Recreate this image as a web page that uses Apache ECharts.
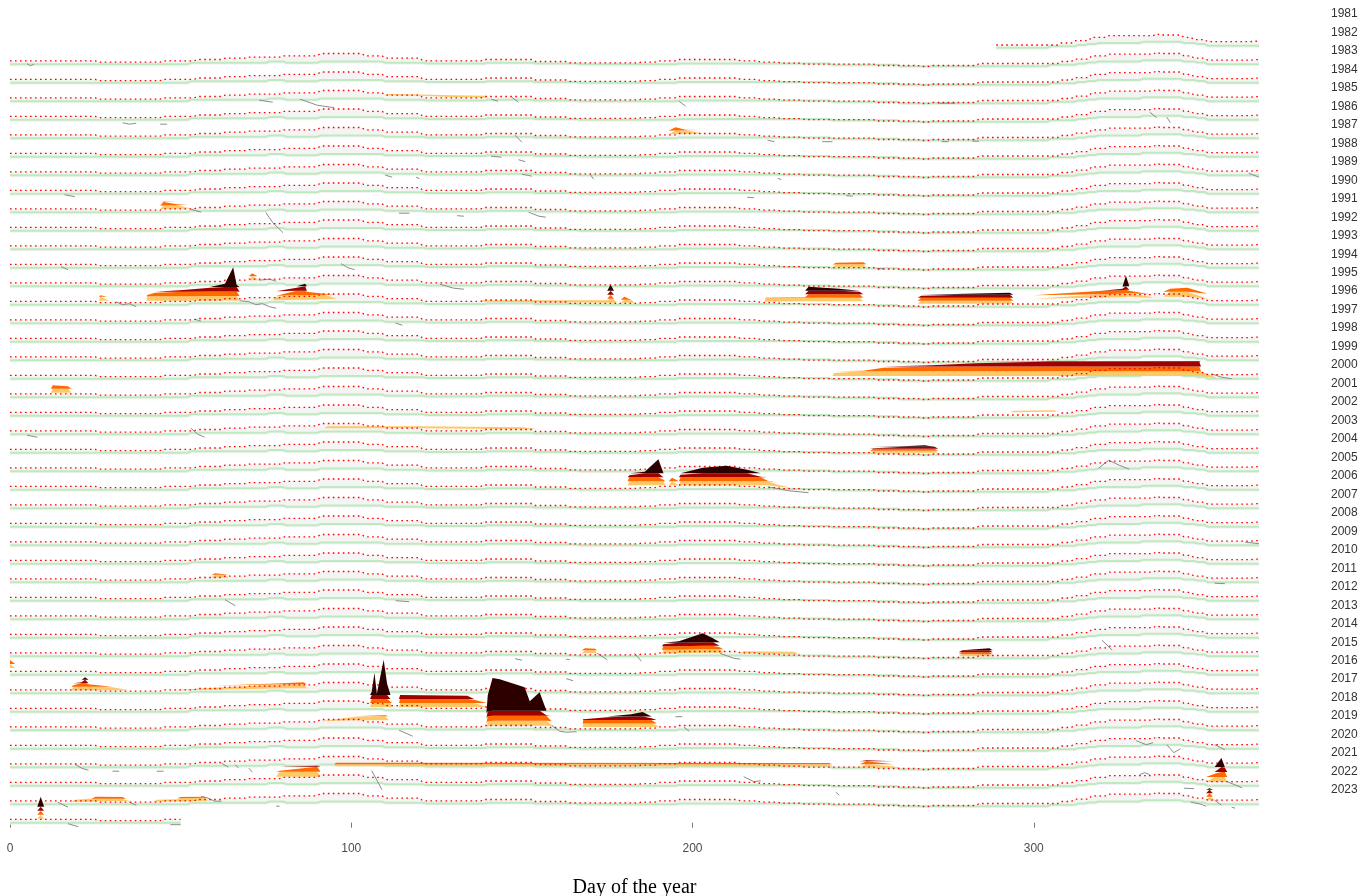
<!DOCTYPE html>
<html><head><meta charset="utf-8">
<script src="https://cdn.jsdelivr.net/npm/echarts@6/dist/echarts.min.js"></script>
<style>html,body{margin:0;padding:0;background:#fff}#c{width:1361px;height:896px}</style>
</head><body><div id="c"></div>
<script>
// ---------- DATA ----------
const years = [1981,1982,1983,1984,1985,1986,1987,1988,1989,1990,1991,1992,1993,1994,1995,1996,1997,1998,1999,2000,2001,2002,2003,2004,2005,2006,2007,2008,2009,2010,2011,2012,2013,2014,2015,2016,2017,2018,2019,2020,2021,2022,2023];
const xTickValues = [0, 100, 200, 300];
const firstDay = {1981: 289};
const lastDay = {2023: 50};
// seasonal 90th-percentile threshold (degC anomaly vs row baseline)
const threshKnots = [[1,0.34],[25,0.34],[26,0.20],[44,0.20],[45,0.34],[54,0.34],[55,0.47],[62,0.47],[63,0.60],[69,0.60],[70,0.70],[79,0.70],[80,0.84],[90,0.84],[91,1.07],[103,1.07],[104,0.84],[109,0.84],[110,0.60],[120,0.60],[121,0.34],[138,0.34],[139,0.47],[153,0.47],[154,0.27],[163,0.27],[164,0.14],[184,0.14],[185,0.20],[189,0.20],[190,0.34],[195,0.34],[196,0.47],[213,0.47],[214,0.34],[219,0.34],[220,0.20],[225,0.20],[226,0.10],[232,0.10],[233,0.00],[253,0.00],[254,-0.13],[266,-0.13],[267,-0.23],[269,-0.23],[270,-0.13],[283,-0.13],[284,0.07],[307,0.07],[308,0.27],[311,0.27],[312,0.50],[316,0.50],[317,0.84],[321,0.84],[322,1.00],[335,1.00],[336,1.20],[337,1.07],[343,1.07],[344,0.84],[346,0.84],[347,0.60],[350,0.60],[351,0.40],[363,0.40],[366,0.47]];
// seasonal climatology
const climKnots = [[1,0],[52,0],[53,0.14],[75,0.14],[76,0.27],[80,0.27],[81,0.14],[90,0.14],[91,0.27],[109,0.27],[110,0.14],[121,0.14],[122,0.07],[139,0.07],[140,0.14],[153,0.14],[154,0.07],[166,0.07],[167,0],[195,0],[196,0.07],[240,0.07],[241,-0.05],[260,-0.05],[261,-0.20],[304,-0.20],[305,-0.06],[312,-0.06],[313,0.07],[315,0.07],[316,0.17],[318,0.17],[319,0.27],[331,0.27],[332,0.40],[343,0.40],[344,0.27],[347,0.27],[348,0.17],[350,0.17],[351,0],[366,0]];
// heatwave events: [day, bottom, top] (degC vs row baseline), band = category step
const events = [
 {yr:1984, band:0.3, pts:[[110,0.60,0.60],[110.5,0.60,0.72],[120,0.55,0.66],[130,0.40,0.60],[139,0.36,0.55],[140,0.36,0.36]]},
 {yr:1986, band:0.35, pts:[[193,0.4,0.4],[195,0.42,1.1],[198,0.45,0.85],[202,0.47,0.55],[203,0.47,0.47]]},
 {yr:1990, band:0.35, pts:[[44,0.3,0.3],[45,0.32,1.05],[49,0.34,0.8],[52,0.38,0.45],[53,0.4,0.4]]},
 {yr:1993, band:0.3, pts:[[241,0,0],[242,0.05,0.5],[250,0.05,0.55],[251,0.05,0.05]]},
 {yr:1994, band:0.4, pts:[[70,0.6,0.6],[71,0.6,1.3],[72.5,0.6,0.7],[73,0.6,0.6]]},
 {yr:1995, band:0.4, pts:[[26,0.4,0.4],[26.5,0.4,0.95],[28.5,0.4,0.5],[29,0.4,0.4]]},
 {yr:1995, band:0.45, pts:[[40,0.4,0.4],[40.2,0.4,0.97],[42.5,0.4,1.2],[50.8,0.4,1.47],[58.6,0.42,1.7],[63,0.42,2.1],[65.4,0.42,3.74],[66.4,0.42,2.0],[67.3,0.4,0.4]]},
 {yr:1995, band:0.45, pts:[[77,0.45,0.45],[78,0.45,0.8],[84,0.5,1.7],[86.5,0.5,2.1],[87,0.5,1.3],[92,0.55,1.1],[95,0.6,0.7],[96,0.6,0.6]]},
 {yr:1995, band:0.4, pts:[[138,0.3,0.3],[138.5,0.3,0.45],[175,0.2,0.45],[176,0.2,2.0],[177,0.2,0.5],[178,0.2,0.2]]},
 {yr:1995, band:0.3, pts:[[179,0.2,0.2],[180,0.2,0.8],[182,0.2,0.5],[183,0.2,0.2]]},
 {yr:1995, band:0.35, pts:[[221,0.3,0.3],[221.5,0.3,0.7],[233,0.35,0.75],[234,0.35,1.8],[243,0.35,1.6],[249,0.35,1.3],[250,0.35,0.35]]},
 {yr:1995, band:0.3, pts:[[266,0.1,0.1],[267,0.1,0.9],[280,0.1,1.1],[293,0.1,1.2],[294,0.1,0.1]]},
 {yr:1995, band:0.35, pts:[[300,0.6,0.6],[320,0.7,1.4],[326,0.75,1.6],[327,0.8,2.9],[328,0.8,1.4],[334,0.7,0.8],[335,0.7,0.7]]},
 {yr:1995, band:0.5, pts:[[338,0.8,0.8],[340,0.8,1.6],[345,0.8,1.7],[351,0.6,0.6]]},
 {yr:1999, band:0.48, pts:[[241,0.27,0.27],[241.5,0.27,0.57],[250,0.27,0.8],[256,0.27,1.1],[270,0.27,1.35],[283,0.27,1.55],[305,0.27,1.75],[348.5,0.27,1.78],[349,0.27,0.75],[353.5,0.05,0.1]]},
 {yr:2000, band:0.4, pts:[[12,0.45,0.45],[12.5,0.45,1.2],[17,0.45,1.1],[18,0.45,0.45]]},
 {yr:2001, band:0.3, pts:[[293,0.35,0.35],[294,0.35,0.5],[306,0.4,0.55],[307,0.4,0.4]]},
 {yr:2002, band:0.3, pts:[[92,0.6,0.6],[93,0.6,0.8],[120,0.6,0.8],[150,0.5,0.7],[155,0.5,0.5]]},
 {yr:2003, band:0.2, pts:[[252,0,0],[253,0,0.45],[262,0,0.65],[268,0,0.75],[271,0,0.6],[272,0,0]]},
 {yr:2005, band:0.4, pts:[[181,0.45,0.45],[181.5,0.45,1.45],[186,0.45,1.8],[190,0.45,3.05],[191.5,0.45,1.0],[192,0.45,0.45]]},
 {yr:2005, band:0.4, pts:[[193,0.45,0.45],[194,0.45,1.2],[196,0.45,0.45]]},
 {yr:2005, band:0.4, pts:[[196,0.45,0.45],[196.5,0.45,1.5],[203,0.45,2.2],[210,0.45,2.4],[216,0.45,2.0],[220,0.45,1.3],[222,0.45,0.9],[225,0.3,0.5],[229,0.2,0.2]]},
 {yr:2010, band:0.3, pts:[[59,0.4,0.4],[60,0.45,0.9],[63,0.45,0.8],[64,0.45,0.45]]},
 {yr:2014, band:0.3, pts:[[167.5,0.3,0.3],[168.5,0.3,0.8],[171.5,0.3,0.75],[172,0.3,0.3]]},
 {yr:2014, band:0.35, pts:[[191,0.3,0.3],[191.5,0.3,1.2],[196,0.3,1.5],[203,0.35,2.3],[206,0.35,1.8],[208,0.35,0.9],[209,0.35,0.35]]},
 {yr:2014, band:0.3, pts:[[214,0.3,0.3],[215,0.3,0.5],[230,0.2,0.45],[231,0.2,0.2]]},
 {yr:2014, band:0.2, pts:[[278,0,0],[279,0,0.6],[287,0,0.8],[288,0,0]]},
 {yr:2015, band:0.4, pts:[[0,0.67,1.47],[1.5,0.67,0.67]]},
 {yr:2016, band:0.35, pts:[[18,0.3,0.3],[18.5,0.3,0.8],[21,0.3,1.1],[22,0.3,1.6],[23,0.3,0.9],[30,0.3,0.6],[35,0.3,0.3]]},
 {yr:2016, band:0.4, pts:[[47,0.3,0.3],[60,0.35,0.55],[80,0.5,1.0],[86,0.5,1.1],[87,0.5,0.5]]},
 {yr:2017, band:0.4, pts:[[105.5,0.47,0.47],[106,0.47,2.0],[106.8,0.47,3.9],[107.5,0.47,1.8],[108.5,0.47,3.5],[109.5,0.47,5.2],[110.5,0.47,2.8],[111.5,0.47,1.0],[112,0.47,0.47]]},
 {yr:2017, band:0.4, pts:[[114,0.47,0.47],[114.3,0.47,1.67],[134,0.47,1.6],[136,0.47,1.2],[139.7,0.47,0.47]]},
 {yr:2018, band:0.4, pts:[[91,0.9,0.9],[100,1.0,1.3],[110,1.0,1.5],[111,1.0,1.0]]},
 {yr:2018, band:0.5, pts:[[139.6,0.2,0.2],[140,0.4,3.5],[141.4,0.45,5.22],[143.5,0.45,5.1],[150.8,0.45,4.3],[152.3,0.45,2.9],[155.2,0.45,3.8],[157.2,0.45,1.5],[158.7,0.4,0.5],[159,0.3,0.3]]},
 {yr:2018, band:0.35, pts:[[167.8,0.32,0.32],[168,0.32,1.1],[175,0.32,1.3],[182,0.32,1.6],[185.4,0.32,1.82],[188,0.32,1.2],[189.5,0.32,0.5],[190,0.32,0.32]]},
 {yr:2020, band:0.2, pts:[[95,0.1,0.1],[95.5,0.1,0.45],[240,0.1,0.42],[241,0.1,0.1]]},
 {yr:2020, band:0.3, pts:[[249,0,0],[251,0,0.7],[259,0,0.1]]},
 {yr:2021, band:0.5, pts:[[78,0.9,0.9],[79,0.9,1.5],[90,0.9,2.0],[91,0.9,0.9]]},
 {yr:2021, band:0.5, pts:[[350.5,0.37,0.37],[353,0.37,1.2],[355,0.37,2.77],[356,0.37,1.8],[356.7,0.37,0.37]]},
 {yr:2022, band:0.25, pts:[[18,0.25,0.25],[19,0.25,0.45],[24,0.28,0.55],[25,0.3,0.75],[33,0.3,0.72],[34,0.3,0.4],[36,0.3,0.3]]},
 {yr:2022, band:0.3, pts:[[42,0.25,0.25],[43,0.25,0.45],[49,0.3,0.5],[50,0.3,0.72],[57,0.35,0.75],[58,0.35,0.35]]},
 {yr:2022, band:0.35, pts:[[350.5,0.4,0.4],[351.5,0.4,1.6],[352.5,0.4,0.6],[353,0.4,0.4]]},
 {yr:2023, band:0.4, pts:[[8,0.4,0.4],[9,0.4,2.6],[10,0.4,0.4]]}
];
// short visible pieces of the SST series (degC vs row baseline)
const sstPieces = [
 {yr:1982, pts:[[5,0.05],[6,-0.15],[7,0.0]]},
 {yr:1984, pts:[[73,0.1],[75,0.0],[77,-0.1]]},
 {yr:1984, pts:[[85,0.2],[90,-0.4],[95,-0.65]]},
 {yr:1984, pts:[[141,0.2],[143,0.0]]},
 {yr:1984, pts:[[147,0.4],[149,-0.1]]},
 {yr:1984, pts:[[196,0.0],[198,-0.5]]},
 {yr:1984, pts:[[272,-0.2],[277,-0.2]]},
 {yr:1985, pts:[[33,-0.3],[35,-0.45],[37,-0.35]]},
 {yr:1985, pts:[[44,-0.45],[46,-0.45]]},
 {yr:1985, pts:[[334,0.75],[336,0.2]]},
 {yr:1985, pts:[[339,0.25],[340,-0.3]]},
 {yr:1986, pts:[[148,0.3],[150,-0.4]]},
 {yr:1986, pts:[[222,-0.2],[224,-0.35]]},
 {yr:1986, pts:[[238,-0.35],[241,-0.35]]},
 {yr:1986, pts:[[273,-0.35],[275,-0.35]]},
 {yr:1986, pts:[[282,-0.3],[284,-0.3]]},
 {yr:1987, pts:[[141,0.05],[144,-0.05]]},
 {yr:1987, pts:[[149,-0.3],[151,-0.5]]},
 {yr:1988, pts:[[110,0.0],[112,-0.2]]},
 {yr:1988, pts:[[119,-0.2],[120,-0.35]]},
 {yr:1988, pts:[[150,0.1],[153,-0.1]]},
 {yr:1988, pts:[[170,0.1],[171,-0.4]]},
 {yr:1988, pts:[[225,-0.3],[226,-0.45]]},
 {yr:1988, pts:[[363,0.2],[366,-0.2]]},
 {yr:1989, pts:[[16,-0.1],[19,-0.3]]},
 {yr:1989, pts:[[216,-0.35],[218,-0.4]]},
 {yr:1989, pts:[[245,-0.2],[247,-0.25]]},
 {yr:1990, pts:[[53,0.3],[56,0.0]]},
 {yr:1990, pts:[[114,-0.1],[117,-0.1]]},
 {yr:1990, pts:[[131,-0.35],[133,-0.4]]},
 {yr:1990, pts:[[152,0.0],[155,-0.4],[157,-0.5]]},
 {yr:1991, pts:[[75,1.8],[77,0.8],[80,-0.2]]},
 {yr:1993, pts:[[15,0.1],[17,-0.2]]},
 {yr:1993, pts:[[97,0.4],[99,0.0],[101,-0.2]]},
 {yr:1993, pts:[[254,-0.1],[256,-0.1]]},
 {yr:1994, pts:[[73,0.6],[76,0.7],[78,0.5]]},
 {yr:1994, pts:[[126,0.2],[130,-0.2],[133,-0.3]]},
 {yr:1995, pts:[[31,0.3],[33,0.0],[35,0.1],[37,-0.2]]},
 {yr:1995, pts:[[67.3,0.4],[70,0.3],[72,0.0],[74,0.1],[76,-0.2],[78,-0.35]]},
 {yr:1996, pts:[[54,0.4],[56,0.2]]},
 {yr:1996, pts:[[113,0.0],[115,-0.2]]},
 {yr:1999, pts:[[352,0.5],[355,0.15],[358,0.0]]},
 {yr:2002, pts:[[5,-0.1],[8,-0.3]]},
 {yr:2002, pts:[[53,0.6],[55,0.0],[57,-0.3]]},
 {yr:2004, pts:[[319,0.3],[322,1.1],[325,0.6],[328,0.2]]},
 {yr:2005, pts:[[222,0.3],[228,-0.1],[234,-0.3]]},
 {yr:2008, pts:[[362,0.3],[366,0.15]]},
 {yr:2010, pts:[[353,-0.1],[356,-0.15]]},
 {yr:2011, pts:[[63,0.1],[66,-0.5]]},
 {yr:2011, pts:[[113,0.0],[117,-0.1]]},
 {yr:2014, pts:[[148,-0.25],[150,-0.4]]},
 {yr:2014, pts:[[163,-0.3],[164,-0.35]]},
 {yr:2014, pts:[[172,0.3],[175,-0.35]]},
 {yr:2014, pts:[[183,0.3],[185,-0.5]]},
 {yr:2014, pts:[[208,0.3],[212,-0.2],[214,-0.3]]},
 {yr:2014, pts:[[320,1.6],[323,0.6]]},
 {yr:2015, pts:[[163,-0.4],[165,-0.6]]},
 {yr:2017, pts:[[195,-0.5],[197,-0.5]]},
 {yr:2018, pts:[[114,0],[118,-0.6]]},
 {yr:2018, pts:[[158.7,0.5],[161,-0.1],[163,-0.2],[166,-0.15]]},
 {yr:2018, pts:[[197.5,0.3],[199,-0.1]]},
 {yr:2019, pts:[[330,0.8],[333,0.4],[335,0.6]]},
 {yr:2019, pts:[[339,0.4],[341,-0.4],[343,0.0]]},
 {yr:2019, pts:[[353,0.4],[356,-0.1]]},
 {yr:2020, pts:[[19,0.3],[21,-0.1],[23,-0.3]]},
 {yr:2020, pts:[[30,-0.4],[32,-0.4]]},
 {yr:2020, pts:[[43,-0.4],[45,-0.4]]},
 {yr:2020, pts:[[62,0.4],[64,0.0]]},
 {yr:2020, pts:[[66,0.25],[67,-0.1]]},
 {yr:2020, pts:[[70,-0.1],[71,-0.5]]},
 {yr:2021, pts:[[106,1.5],[109,-0.4]]},
 {yr:2021, pts:[[215,0.9],[218,0.4],[220,0.5]]},
 {yr:2021, pts:[[331,1.1],[332.5,1.3],[334,1.1]]},
 {yr:2021, pts:[[344,-0.25],[347,-0.3]]},
 {yr:2021, pts:[[356.7,0.4],[361,-0.2]]},
 {yr:2022, pts:[[14,0.2],[17,-0.3]]},
 {yr:2022, pts:[[35,0.2],[37,-0.1]]},
 {yr:2022, pts:[[56,0.8],[58,0.6],[60,0.3],[62,0.3]]},
 {yr:2022, pts:[[78,-0.2],[79,-0.2]]},
 {yr:2022, pts:[[242,1.2],[243,0.9]]},
 {yr:2022, pts:[[346,0.2],[349,0.0],[350.5,-0.2]]},
 {yr:2022, pts:[[353,0.4],[355,-0.1]]},
 {yr:2022, pts:[[358,-0.3],[359,-0.4]]},
 {yr:2023, pts:[[17,-0.1],[20,-0.4]]},
 {yr:2023, pts:[[47,-0.2],[50,-0.2]]}
];
const catColors = ['#ffc866', '#ff6900', '#9e0000', '#2d0000'];
const ROW_GAP = 1.85;

// ---------- RENDER ----------
function rowBase(yr){ return (2023 - yr) * ROW_GAP; }
function valueAt(k, d){
  if (d <= k[0][0]) return k[0][1];
  for (let i = 0; i < k.length - 1; i++) {
    if (d >= k[i][0] && d <= k[i+1][0]) {
      const t = (d - k[i][0]) / (k[i+1][0] - k[i][0] || 1);
      return k[i][1] + t * (k[i+1][1] - k[i][1]);
    }
  }
  return k[k.length-1][1];
}
function clipKnots(k, d0, d1){
  const out = [[d0, valueAt(k, d0)]];
  k.forEach(p => { if (p[0] > d0 && p[0] < d1) out.push(p); });
  out.push([d1, valueAt(k, d1)]);
  return out;
}
function renderRow(params, api){
  const yr = years[params.dataIndex];
  const b = rowBase(yr);
  const d0 = firstDay[yr] !== undefined ? firstDay[yr] : 0;
  const d1 = lastDay[yr] !== undefined ? lastDay[yr] : 366;
  const c = (d, v) => api.coord([d, b + v]);
  const th = clipKnots(threshKnots, d0, d1);
  const cl = clipKnots(climKnots, d0, d1);
  const children = [];
  const bandPts = th.map(p => c(p[0], p[1])).concat(cl.slice().reverse().map(p => c(p[0], p[1] - 0.2)));
  children.push({type:'polygon', shape:{points:bandPts}, style:{fill:'#f4f4f4'}, silent:true});
  children.push({type:'polyline', shape:{points:cl.map(p => c(p[0], p[1]))}, style:{stroke:'#bfe9bf', lineWidth:2, fill:null}, silent:true});
  sstPieces.filter(s => s.yr === yr).forEach(s => {
    children.push({type:'polyline', shape:{points:s.pts.map(p => c(p[0], p[1]))}, style:{stroke:'#8c8c8c', lineWidth:1, fill:null}, silent:true});
  });
  events.filter(e => e.yr === yr).forEach(e => {
    for (let k = 0; k < 4; k++) {
      const lo = e.pts.map(p => p[1] + k * e.band);
      const hi = e.pts.map((p, i) => Math.max(lo[i], k < 3 ? Math.min(p[2], p[1] + (k + 1) * e.band) : p[2]));
      if (!hi.some((h, i) => h > lo[i] + 1e-6)) continue;
      const up = e.pts.map((p, i) => c(p[0], hi[i]));
      const dn = e.pts.map((p, i) => c(p[0], lo[i])).reverse();
      children.push({type:'polygon', shape:{points:up.concat(dn)}, style:{fill:catColors[k]}, silent:true});
    }
  });
  children.push({type:'polyline', shape:{points:th.map(p => c(p[0], p[1]))}, style:{stroke:'#ff0000', lineWidth:1.3, lineDash:[1.6, 3.4], fill:null}, silent:true});
  return {type:'group', children};
}

const chart = echarts.init(document.getElementById('c'), null, {renderer:'canvas'});
chart.setOption({
  animation: false,
  backgroundColor: '#ffffff',
  grid: [
    {left:10, width:1249, top:17.7, height:815, outerBoundsMode:'none', containLabel:false},
    {left:1322, width:1, top:14, height:776, outerBoundsMode:'none', containLabel:false}
  ],
  xAxis: [
    {gridIndex:0, type:'value', min:0, max:366,
     axisLine:{show:false},
     axisTick:{show:true, length:5, lineStyle:{color:'#777'}, customValues:xTickValues},
     axisLabel:{fontSize:12, color:'#4d4d4d', margin:10, fontFamily:'Liberation Sans, Arial, sans-serif', customValues:xTickValues},
     splitLine:{show:false},
     name:'Day of the year', nameLocation:'middle', nameGap:45,
     nameTextStyle:{fontFamily:'Liberation Serif, Times New Roman, serif', fontSize:20, color:'#000'}},
    {gridIndex:1, type:'value', show:false, min:0, max:1}
  ],
  yAxis: [
    {gridIndex:0, type:'value', min:-1, max:80.5, show:false},
    {gridIndex:1, type:'category', data:years.map(String), inverse:true, boundaryGap:false, position:'right',
     axisLine:{show:false}, axisTick:{show:false}, splitLine:{show:false},
     axisLabel:{margin:8, fontSize:12, color:'#333', fontFamily:'Liberation Sans Narrow, Arial Narrow, Liberation Sans, sans-serif', interval:0}}
  ],
  series: [{
    type:'custom', xAxisIndex:0, yAxisIndex:0, clip:false,
    dimensions:['x','y'], encode:{x:0, y:1},
    data: years.map(y => [0, rowBase(y)]),
    renderItem: renderRow
  }]
});
</script>
</body></html>
